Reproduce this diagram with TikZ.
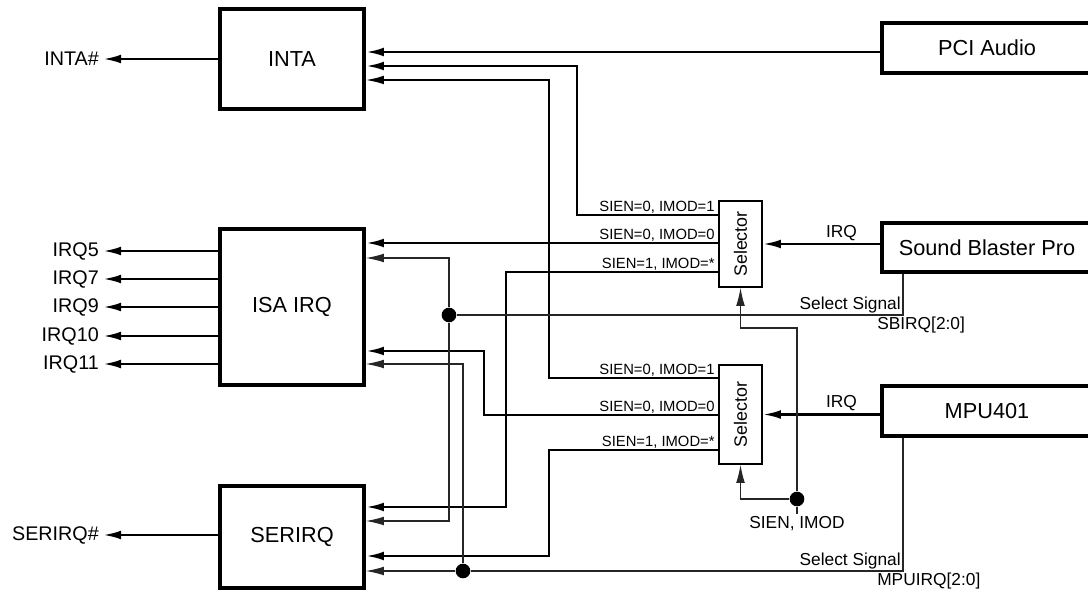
\documentclass[tikz,border=0pt]{standalone}
\usepackage{fontspec}
\setmainfont{Liberation Sans}
\usetikzlibrary{arrows.meta}

\begin{document}
\begin{tikzpicture}[
  x=0.75pt, y=-0.75pt,
  >={Latex[length=13.5pt,width=6.5pt]},
  block/.style={draw,line width=2.8pt,inner sep=0pt,
    font=\fontsize{16.3}{18}\selectfont},
  selbox/.style={draw,line width=1.2pt,minimum width=32.25pt,
    minimum height=64.5pt,inner sep=0pt,font=\fontsize{13.4}{15}\selectfont},
  portlbl/.style={anchor=east,inner sep=3pt,font=\fontsize{14.8}{16}\selectfont},
  cond/.style={anchor=south east,inner xsep=2.5pt,inner ysep=1pt,
    font=\fontsize{11.1}{12}\selectfont},
  note/.style={inner sep=1.5pt,font=\fontsize{13}{14}\selectfont},
  sig/.style={line width=1.9pt},
  sel/.style={line width=0.8pt,black!85},
  junction/.style={circle,fill,inner sep=0pt,minimum size=11pt}
]
  \useasboundingbox (0,0) rectangle (1088,591);

  % interrupt blocks
  \node[block,minimum width=108pt,minimum height=75pt] (inta) at (292,59) {INTA};
  \node[block,minimum width=108pt,minimum height=117pt] (isa) at (292,307) {ISA IRQ};
  \node[block,minimum width=108pt,minimum height=76.5pt] (serirq) at (292,537) {SERIRQ};

  % sources
  \node[block,minimum width=157.5pt,minimum height=37.5pt] (pci) at (987,48) {PCI Audio};
  \node[block,minimum width=157.5pt,minimum height=36.75pt] (sb) at (987,247.5) {Sound Blaster Pro};
  \node[block,minimum width=157.5pt,minimum height=37.5pt] (mpu) at (987,411) {MPU401};

  \node[selbox] (sel1) at (740.5,244) {\rotatebox{90}{Selector}};
  \node[selbox,minimum height=74.25pt] (sel2) at (740.5,414.5) {\rotatebox{90}{Selector}};

  % outputs
  \node[portlbl] (intan) at (103,59) {INTA\#};
  \foreach \n/\y in {5/251,7/279,9/307,10/336,11/364}
    \node[portlbl] (irq\n) at (103,\y) {IRQ\n};
  \node[portlbl] (serirqn) at (103,535) {SERIRQ\#};

  \draw[sig,->] (inta) -- (intan);
  \foreach \n in {5,7,9,10,11}
    \draw[sig,->] (isa.west |- irq\n) -- (irq\n);
  \draw[sig,->] (serirq.west |- serirqn) -- (serirqn);

  % selector outputs
  \draw[sig,->] (pci.west |- 0,52) -- (inta.east |- 0,52);
  \draw[sig,->] (sel1.west |- 0,215) -| (577,66) -- (inta.east |- 0,66);
  \draw[sig,line width=1.3pt,->] (sel2.west |- 0,378) -| (549,80) -- (inta.east |- 0,80);
  \draw[sig,->] (sel1.west |- 0,243) -- (isa.east |- 0,243);
  \draw[sig,->] (sel1.west |- 0,272) -| (506,507) -- (serirq.east |- 0,507);
  \draw[sig,->] (sel2.west |- 0,415) -| (484,351) -- (isa.east |- 0,351);
  \draw[sig,->] (sel2.west |- 0,450) -| (549,556) -- (serirq.east |- 0,556);

  \foreach \s/\y/\t in {sel1/215/{SIEN=0, IMOD=1},sel1/243/{SIEN=0, IMOD=0},
      sel1/272/{SIEN=1, IMOD=*},sel2/378/{SIEN=0, IMOD=1},
      sel2/415/{SIEN=0, IMOD=0},sel2/450/{SIEN=1, IMOD=*}}
    \node[cond] (c\s\y) at (\s.west |- 0,\y) {\t};

  % IRQ inputs
  \draw[sig,->] (sb.west |- sel1.east) -- node[note,above,pos=0.33] (sbirqn) {IRQ} (sel1.east);
  \draw[sig,->] (mpu.west |- sel2.east) -- node[note,above,pos=0.33] (mpuirqn) {IRQ} (sel2.east);

  % select signals
  \node[junction] (sbdot) at (449,315) {};
  \node[junction] (mpudot) at (463,571) {};
  \draw[sel] (903,0 |- sb.south) |- (sbdot);
  \draw[sel,->] (sbdot) |- (isa.east |- 0,258);
  \draw[sel,->] (sbdot) |- (serirq.east |- 0,521);
  \draw[sel] (903,0 |- mpu.south) |- (mpudot);
  \draw[sel,->] (mpudot) -- (serirq.east |- mpudot);
  \draw[sel,->] (mpudot) |- (isa.east |- 0,364);
  \node[note,anchor=south east] (sbsel) at (903,315) {Select Signal};
  \node[note,anchor=north west] (sbbus) at (875,315) {SBIRQ[2:0]};
  \node[note,anchor=south east] (mpusel) at (903,571) {Select Signal};
  \node[note,anchor=north west] (mpubus) at (875,571) {MPUIRQ[2:0]};

  % mode control
  \node[junction] (ctldot) at (797,499) {};
  \node[note,anchor=north] (ctl) at (797,514) {SIEN, IMOD};
  \draw[sel] (ctl) -- (ctldot);
  \draw[sel,->] (ctldot) -- (797,328) -| (sel1.south);
  \draw[sel,->] (ctldot) -| (sel2.south);
\end{tikzpicture}
\end{document}
